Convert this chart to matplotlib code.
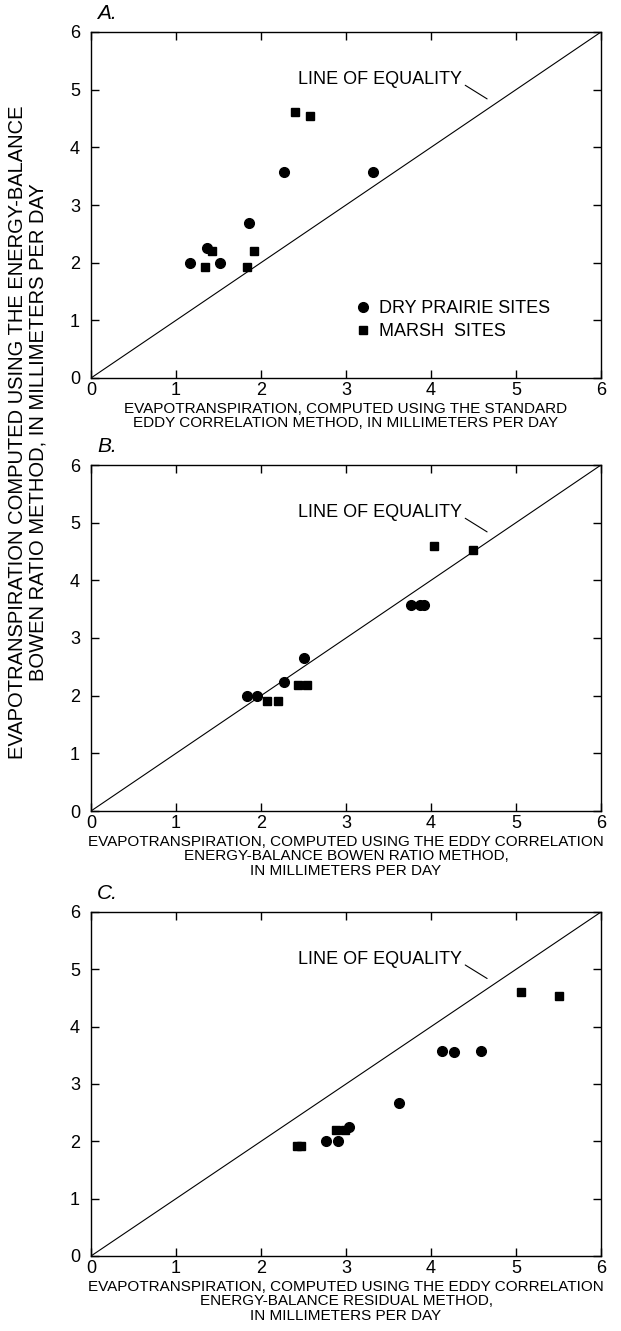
import matplotlib
matplotlib.use("Agg")
import matplotlib.pyplot as plt

plt.rcParams['font.family'] = ['Liberation Sans', 'DejaVu Sans']

# ET (mm/day): x from each eddy-correlation variant, y from energy-balance Bowen ratio
# panel A - standard eddy correlation
a_dry_x = [1.16, 1.37, 1.52, 1.86, 2.27, 3.32]
a_dry_y = [2.00, 2.26, 2.00, 2.68, 3.58, 3.58]
a_marsh_x = [1.34, 1.42, 1.84, 1.92, 2.40, 2.58]
a_marsh_y = [1.92, 2.21, 1.92, 2.21, 4.62, 4.55]

# panel B - eddy correlation, energy-balance Bowen ratio
b_dry_x = [1.83, 1.95, 2.27, 2.51, 3.76, 3.87, 3.92]
b_dry_y = [2.00, 2.00, 2.23, 2.65, 3.57, 3.57, 3.57]
b_marsh_x = [2.07, 2.20, 2.44, 2.54, 4.04, 4.49]
b_marsh_y = [1.90, 1.90, 2.18, 2.18, 4.60, 4.53]

# panel C - eddy correlation, energy-balance residual
c_dry_x = [2.77, 2.90, 3.04, 3.62, 4.13, 4.27, 4.59]
c_dry_y = [2.00, 2.00, 2.25, 2.67, 3.57, 3.56, 3.57]
c_marsh_x = [2.42, 2.47, 2.88, 2.99, 5.06, 5.51]
c_marsh_y = [1.92, 1.92, 2.20, 2.20, 4.61, 4.54]

lims = [0, 6]
ticks = [0, 1, 2, 3, 4, 5, 6]

panel_letters = ["A.", "B.", "C."]
xlabels = [
    "EVAPOTRANSPIRATION, COMPUTED USING THE STANDARD\nEDDY CORRELATION METHOD, IN MILLIMETERS PER DAY",
    "EVAPOTRANSPIRATION, COMPUTED USING THE EDDY CORRELATION\nENERGY-BALANCE BOWEN RATIO METHOD,\nIN MILLIMETERS PER DAY",
    "EVAPOTRANSPIRATION, COMPUTED USING THE EDDY CORRELATION\nENERGY-BALANCE RESIDUAL METHOD,\nIN MILLIMETERS PER DAY",
]
ylabel = ("EVAPOTRANSPIRATION COMPUTED USING THE ENERGY-BALANCE\n"
          "BOWEN RATIO METHOD, IN MILLIMETERS PER DAY")

panels = [
    (a_dry_x, a_dry_y, a_marsh_x, a_marsh_y),
    (b_dry_x, b_dry_y, b_marsh_x, b_marsh_y),
    (c_dry_x, c_dry_y, c_marsh_x, c_marsh_y),
]

fig = plt.figure(figsize=(6.21, 13.31), dpi=100)
left, width = 91 / 621, 510 / 621
boxes = [(32, 378), (465, 811), (912, 1256)]   # top/bottom in pixels

for i, (dx, dy, mx, my) in enumerate(panels):
    top, bot = boxes[i]
    ax = fig.add_axes([left, 1 - bot / 1331, width, (bot - top) / 1331])
    ax.plot(lims, lims, color="black", lw=0.8)
    ax.plot(dx, dy, "o", color="black", ms=7, label="DRY PRAIRIE SITES")
    ax.plot(mx, my, "s", color="black", ms=5.5, label="MARSH  SITES")
    ax.set_xlim(lims)
    ax.set_ylim(lims)
    ax.set_xticks(ticks)
    ax.set_yticks(ticks)
    ax.tick_params(direction="in", top=True, right=True, length=6, width=1,
                   labelsize=13)
    ax.tick_params(axis="x", pad=3)
    ax.tick_params(axis="y", pad=8)
    for s in ax.spines.values():
        s.set_linewidth(1)
    ax.set_xlabel(xlabels[i], fontsize=11, linespacing=1.05, labelpad=2)
    ax.text(0.012, 1.025, panel_letters[i], transform=ax.transAxes,
            fontsize=15, style="italic", va="bottom", ha="left")
    ax.annotate("LINE OF EQUALITY", xy=(4.66, 4.84), xytext=(4.37, 5.18),
                ha="right", va="center", fontsize=13,
                arrowprops=dict(arrowstyle="-", lw=0.8, color="black",
                                relpos=(1.0, 0.25), shrinkA=0, shrinkB=0))
    if i == 0:
        ax.legend(loc="upper left", bbox_to_anchor=(0.516, 0.224),
                  frameon=False, fontsize=13, handlelength=1,
                  handletextpad=0.4, labelspacing=0.3, borderpad=0,
                  borderaxespad=0)

fig.text(28 / 621, 1 - 432 / 1331, ylabel, rotation=90, ha="center",
         va="center", fontsize=14.5, linespacing=1.1, multialignment="center")

fig.savefig("out.png", dpi=100)
